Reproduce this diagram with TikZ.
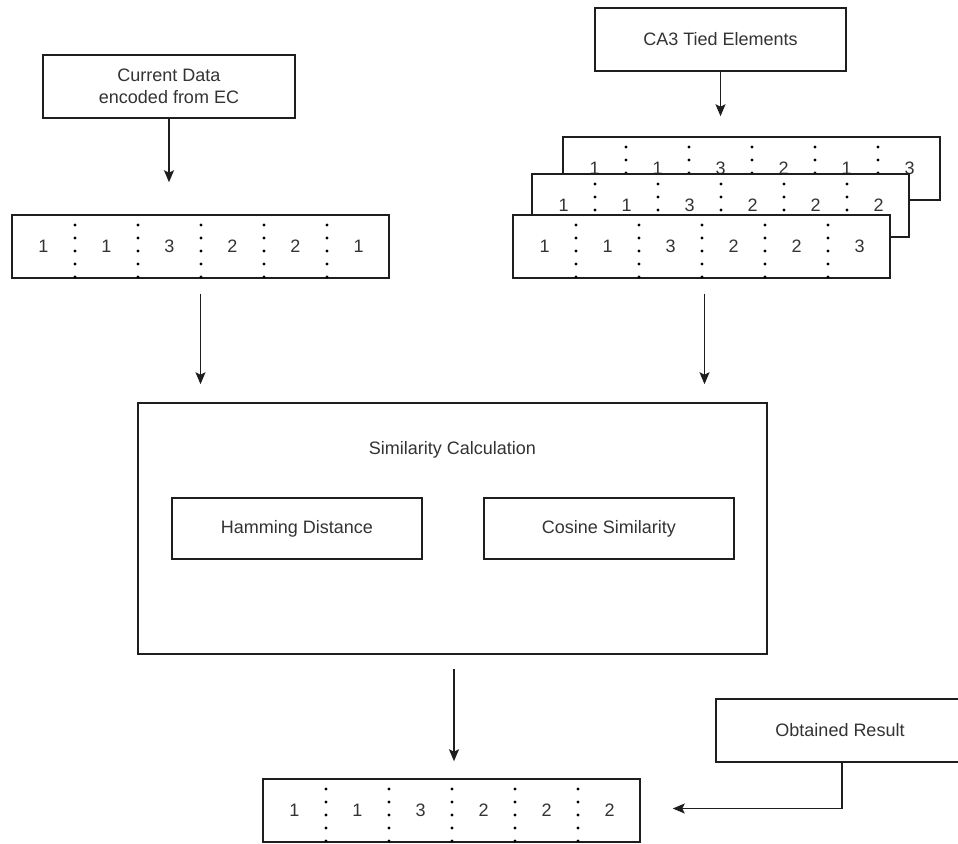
\documentclass[tikz,border=0pt]{standalone}
\usepackage{fontspec}
\setmainfont{Liberation Sans}
\usetikzlibrary{arrows.meta}

\definecolor{inkline}{HTML}{1E1E1E}
\definecolor{inktext}{HTML}{333333}

\tikzset{
  plainbox/.style={draw=inkline, line width=1.5pt, fill=white, inner sep=0pt,
    minimum width=#1, minimum height=63pt, text=inktext, align=center,
    font=\fontsize{18}{22}\selectfont},
  plainbox/.default=251pt,
  rowbox/.style={draw=inkline, line width=1.5pt, fill=white, inner sep=0pt,
    minimum width=377pt, minimum height=63pt},
  numtxt/.style={text=inktext, inner sep=0pt, font=\fontsize{18}{22}\selectfont},
  sepdot/.style={fill=black},
  flow/.style={draw=inkline, line width=1.5pt,
    -{Stealth[length=12pt, width=10pt, inset=2.5pt]}},
}

% one row of six cells: name, left x, top y, the six values
\newcommand{\cellrow}[4]{%
  \node[rowbox] (#1) at (#2+188.5, #3+31.5) {};
  \foreach \v [count=\i] in {#4}
    \node[numtxt] (#1-n\i) at (#2-31.5+63*\i, #3+31.5) {\v};
  \foreach \i in {1,...,5}
    \foreach \k in {0,...,4}
      \fill[sepdot] (#2+63*\i, #3+10+13*\k) circle[radius=1.7pt];
}

\begin{document}
\begin{tikzpicture}[x=1pt, y=-1pt]
  \useasboundingbox (0,0) rectangle (958,843);
  \clip (0,0) rectangle (958,843);

  % inputs
  \node[plainbox=252pt] (cur) at (169,86.5) {Current Data\\encoded from EC};
  \node[plainbox] (ca3) at (720.5,39.5) {CA3 Tied Elements};

  % encoded current pattern
  \cellrow{cur-row}{12}{215}{1,1,3,2,2,1}

  % stacked stored patterns (back to front)
  \cellrow{back-row}{563}{137}{1,1,3,2,1,3}
  \cellrow{mid-row}{532}{174}{1,1,3,2,2,2}
  \cellrow{front-row}{513}{215}{1,1,3,2,2,3}

  % similarity stage
  \node[draw=inkline, line width=1.5pt, minimum width=629pt, minimum height=251pt,
        inner sep=0pt] (sim) at (452.5,528.5) {};
  \node[numtxt] (simtitle) at (452.5,450) {Similarity Calculation};
  \node[plainbox=250pt, minimum height=61pt] (ham) at (297,528.5) {Hamming Distance};
  \node[plainbox=250pt, minimum height=61pt] (cos) at (609,528.5) {Cosine Similarity};

  % result
  \node[plainbox=248pt] (obt) at (840,730.5) {Obtained Result};
  \cellrow{out-row}{263}{779}{1,1,3,2,2,2}

  % connectors
  \draw[flow, shorten >=32pt] (cur.south) -- (cur.south |- cur-row.north);
  \draw[flow, shorten >=20pt] (ca3.south) -- (ca3.south |- back-row.north);
  \draw[flow, shorten <=15pt, shorten >=18pt] (cur-row.south) -- (cur-row.south |- sim.north);
  \draw[flow, shorten <=15pt, shorten >=18pt] ([xshift=3pt]front-row.south) -- ([xshift=3pt]front-row.south |- sim.north);
  \draw[flow, shorten <=14pt, shorten >=17pt] ([xshift=1.5pt]sim.south) -- ([xshift=1.5pt]sim.south |- out-row.north);
  \draw[flow, shorten >=32pt] ([xshift=2pt]obt.south) |- ([yshift=2pt]out-row.east);
\end{tikzpicture}
\end{document}
